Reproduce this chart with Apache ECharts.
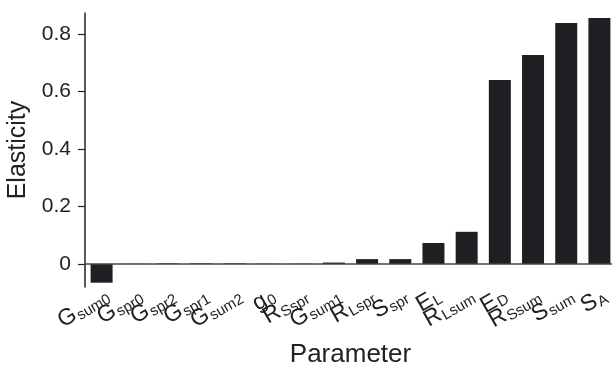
<!DOCTYPE html>
<html><head><meta charset="utf-8">
<script src="https://cdn.jsdelivr.net/npm/echarts@6/dist/echarts.min.js"></script>
<style>html,body{margin:0;padding:0;background:#fff}#c{width:612px;height:366px}</style>
</head><body><div id="c"></div>
<script>
var labelMain = ['G','G','G','G','G','g','R','G','R','S','E','R','E','R','S','S'];
var labelSub = ['sum0','spr0','spr2','spr1','sum2','0','Sspr','sum1','Lspr','spr','L','Lsum','D','Ssum','sum','A'];
var values = [-0.065, 0.0005, 0.002, 0.002, 0.002, 0.001, 0.001, 0.005, 0.017, 0.017, 0.073, 0.112, 0.640, 0.727, 0.838, 0.856];
var yTicks = [0, 0.2, 0.4, 0.6, 0.8];
var categories = labelMain.map(function(m, i){ return m + '_' + labelSub[i]; });

var FONT = '"Liberation Sans", Arial, Helvetica, sans-serif';
var chart = echarts.init(document.getElementById('c'), null, {renderer:'canvas'});
chart.setOption({
  animation: false,
  backgroundColor: '#fff',
  grid: {left: 85, right: -4, top: 13, bottom: 79, containLabel: false, outerBoundsMode: 'none'},
  xAxis: {
    type: 'category',
    data: categories,
    name: 'Parameter',
    nameLocation: 'middle',
    nameGap: 55,
    nameTextStyle: {fontFamily: FONT, fontSize: 26, color: '#222'},
    axisLine: {show: false, onZero: false},
    axisTick: {show: false},
    axisLabel: {
      rotate: 30, margin: -3, interval: 0, color: '#222', fontFamily: FONT,
      align: 'right', verticalAlign: 'top',
      formatter: function(v, i){ return '{m|' + labelMain[i] + '}{s|' + labelSub[i] + '}'; },
      rich: {
        m: {fontSize: 23, fontFamily: FONT, color: '#222'},
        s: {fontSize: 15, fontFamily: FONT, color: '#222', padding: [9, 0, 0, 1]}
      }
    },
    splitLine: {show: false}
  },
  yAxis: {
    type: 'value',
    min: -0.08, max: 0.873,
    name: 'Elasticity',
    nameLocation: 'middle',
    nameGap: 52,
    nameTextStyle: {fontFamily: FONT, fontSize: 25, color: '#222'},
    axisLine: {show: true, lineStyle: {color: '#222', width: 1.5}},
    axisTick: {show: true, length: 7, lineStyle: {color: '#222', width: 1.2}, customValues: yTicks},
    axisLabel: {
      color: '#222', fontFamily: FONT, fontSize: 21, margin: 14,
      customValues: yTicks,
      formatter: function(v){ return v === 0 ? '0' : v.toFixed(1); }
    },
    splitLine: {show: false}
  },
  series: [{
    type: 'bar',
    data: values,
    barWidth: 22,
    itemStyle: {color: '#1e1f23'},
    markLine: {
      silent: true, symbol: 'none', label: {show: false},
      lineStyle: {color: '#444', width: 1.5, type: 'solid'},
      data: [{yAxis: 0}]
    }
  }]
});
</script></body></html>
